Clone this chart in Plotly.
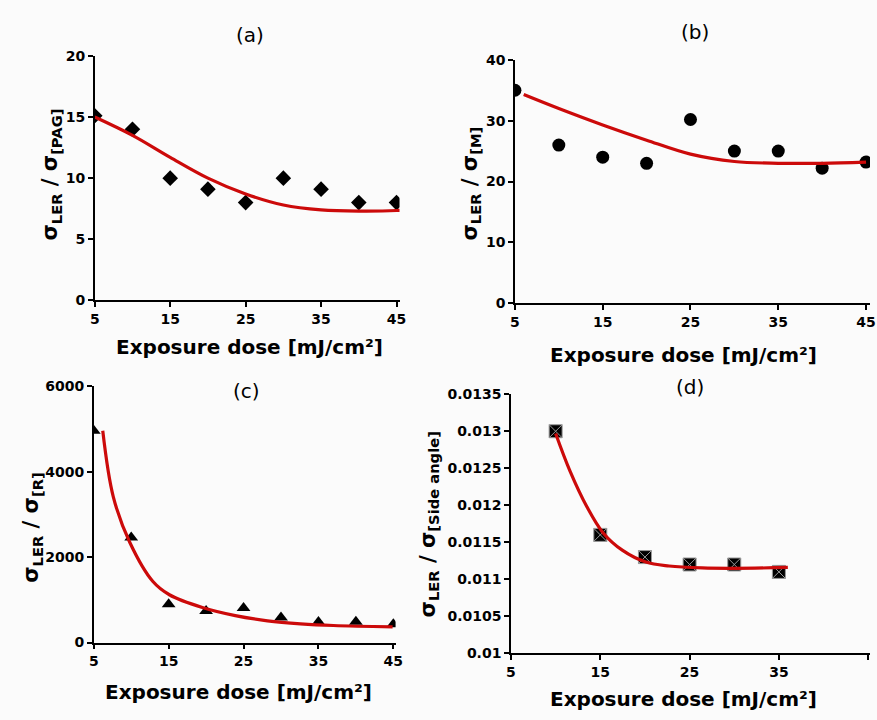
import plotly.graph_objects as go

# ---------------- data ----------------
dose_a = [5, 10, 15, 20, 25, 30, 35, 40, 45]
ratio_pag = [15.1, 14.0, 10.0, 9.1, 8.0, 10.0, 9.1, 8.0, 8.0]
fit_a_x = [5, 10, 15, 20, 25, 30, 35, 40, 45, 47]
fit_a_y = [15.0, 13.5, 11.7, 10.0, 8.7, 7.8, 7.4, 7.3, 7.35, 7.45]

dose_b = [5, 10, 15, 20, 25, 30, 35, 40, 45]
ratio_m = [35.0, 26.0, 24.0, 23.0, 30.2, 25.0, 25.0, 22.2, 23.2]
fit_b_x = [6, 10, 15, 20, 25, 30, 35, 40, 45]
fit_b_y = [34.3, 32.0, 29.3, 26.8, 24.5, 23.3, 23.0, 23.0, 23.2]

dose_c = [5, 10, 15, 20, 25, 30, 35, 40, 45]
ratio_r = [4960, 2460, 900, 740, 810, 590, 480, 490, 430]
fit_c_x = [6.2, 7.6, 9.8, 12.9, 15.1, 19.5, 23.9, 28.2, 32.6, 37, 44.9]
fit_c_y = [4960, 3420, 2350, 1430, 1120, 820, 630, 510, 440, 400, 370]

dose_d = [10, 15, 20, 25, 30, 35]
ratio_side = [0.0130, 0.0116, 0.0113, 0.0112, 0.0112, 0.0111]
fit_d_x = [10, 11.6, 13.5, 15.3, 17.5, 20.1, 22.7, 26.4, 30, 36]
fit_d_y = [0.01297, 0.012465, 0.01198, 0.01163, 0.01139, 0.011233, 0.01118, 0.011153, 0.011148, 0.01116]

x_ticks = [5, 15, 25, 35, 45]
d_ticks = [0.01, 0.0105, 0.011, 0.0115, 0.012, 0.0125, 0.013, 0.0135]
d_ticktext = ["0.01", "0.0105", "0.011", "0.0115", "0.012", "0.0125", "0.013", "0.0135"]

# ---------------- figure ----------------
W, H = 877, 720
FONT = "DejaVu Sans"
RED = "#cc0a0a"

fig = go.Figure()

panels = [
    # (xaxis, yaxis, xpx0, xpx1, ypx_top, ypx_bottom, xrange, yrange)
    ("x", "y", 91, 400, 49, 299, [5, 45.4], [0, 20]),
    ("x2", "y2", 517, 877, 53, 302, [5, 45.45], [0, 40]),
    ("x3", "y3", 90, 396, 387, 649, [5, 45.3], [0, 6000]),
    ("x4", "y4", 513, 877, 395, 660, [5, 45.2], [0.01, 0.0135]),
]

series = [
    (dose_a, ratio_pag, fit_a_x, fit_a_y, "diamond", 12, None),
    (dose_b, ratio_m, fit_b_x, fit_b_y, "circle", 13, None),
    (dose_c, ratio_r, fit_c_x, fit_c_y, "triangle-up", 12, None),
    (dose_d, ratio_side, fit_d_x, fit_d_y, "square-x", 13, "#999999"),
]

for (xa, ya, *_), (dx, dy, fx, fy, sym, sz, lc) in zip(panels, series):
    mk = dict(symbol=sym, size=sz, color="black")
    if lc:
        mk["line"] = dict(color=lc, width=1)
    fig.add_trace(go.Scatter(x=dx, y=dy, mode="markers", marker=mk,
                             xaxis=xa, yaxis=ya, showlegend=False))
    fig.add_trace(go.Scatter(x=fx, y=fy, mode="lines",
                             line=dict(color=RED, width=3.2, shape="spline", smoothing=1.0),
                             xaxis=xa, yaxis=ya, showlegend=False))

layout = {}
for i, (xa, ya, x0, x1, yt, yb, xr, yr) in enumerate(panels):
    xk = "xaxis" if i == 0 else f"xaxis{i+1}"
    yk = "yaxis" if i == 0 else f"yaxis{i+1}"
    layout[xk] = dict(
        domain=[x0 / W, min(x1 / W, 1.0)], range=xr, anchor=ya,
        showgrid=False, zeroline=False, showline=True, linecolor="black", linewidth=1.5,
        ticks="outside", ticklen=5, tickwidth=1.5, tickcolor="black",
        tickvals=x_ticks, ticktext=[str(v) for v in x_ticks],
        tickfont=dict(family=FONT, size=14, color="black", weight="bold"),
    )
    ydict = dict(
        domain=[1 - yb / H, 1 - yt / H], range=yr, anchor=xa,
        showgrid=False, zeroline=False, showline=True, linecolor="black", linewidth=1.5,
        ticks="outside", ticklen=5, tickwidth=1.5, tickcolor="black",
        tickfont=dict(family=FONT, size=14, color="black", weight="bold"),
    )
    if i == 0:
        ydict["dtick"] = 5
    elif i == 1:
        ydict["dtick"] = 10
    elif i == 2:
        ydict["dtick"] = 2000
    else:
        ydict["tickvals"] = d_ticks
        ydict["ticktext"] = d_ticktext
    layout[yk] = ydict

annotations = []
# panel titles
for txt, x, y in [("(a)", 248, 28), ("(b)", 700, 25), ("(c)", 245, 392), ("(d)", 694, 388)]:
    annotations.append(dict(text=txt, x=x / W, y=1 - y / H, xref="paper", yref="paper",
                            showarrow=False, font=dict(family=FONT, size=20, color="black"),
                            xanchor="center", yanchor="middle"))
# x titles
for x, y in [(248, 347), (688, 355), (237, 700), (688, 707)]:
    annotations.append(dict(text="<b>Exposure dose [mJ/cm²]</b>", x=x / W, y=1 - y / H,
                            xref="paper", yref="paper", showarrow=False,
                            font=dict(family=FONT, size=20, color="black"),
                            xanchor="center", yanchor="middle"))
# y titles
for txt, x, y in [("[PAG]", 47, 170), ("[M]", 472, 180), ("[R]", 28, 532), ("[Side angle]", 430, 528)]:
    annotations.append(dict(text=f"<b>σ<sub>LER</sub> / σ<sub>{txt}</sub></b>", x=x / W, y=1 - y / H,
                            xref="paper", yref="paper", showarrow=False, textangle=-90,
                            font=dict(family=FONT, size=21, color="black"),
                            xanchor="center", yanchor="middle"))

fig.update_layout(
    width=W, height=H, margin=dict(l=0, r=0, t=0, b=0),
    paper_bgcolor="#fbfbfb", plot_bgcolor="rgba(0,0,0,0)",
    annotations=annotations, **layout,
)

fig.write_html("out.html", config={"displayModeBar": False},
               post_script="document.body.style.margin='0px';document.body.style.overflow='hidden';")
